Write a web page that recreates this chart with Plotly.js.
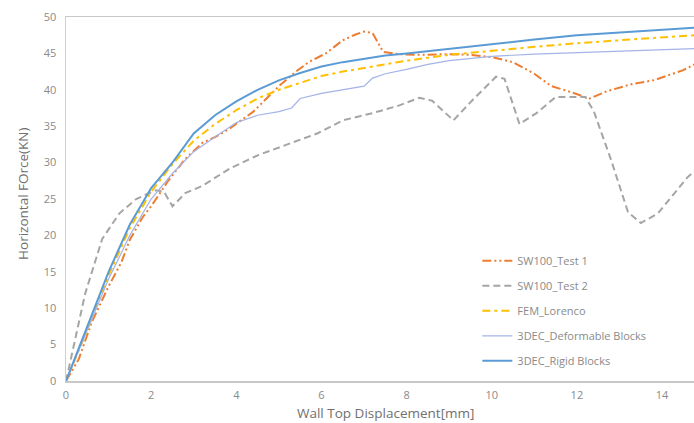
<!DOCTYPE html>
<html>
<head>
<meta charset="utf-8">
<script src="https://cdn.plot.ly/plotly-3.0.1.min.js"></script>
<style>html,body{margin:0;padding:0;background:#fff;}#chart{width:694px;height:423px;}</style>
</head>
<body>
<div id="chart"></div>
<script>
// Series names
const seriesNames = ["SW100_Test 1", "SW100_Test 2", "FEM_Lorenco", "3DEC_Deformable Blocks", "3DEC_Rigid Blocks"];

// SW100_Test 1
const test1X = [0,0.3,0.6,1,1.3,1.5,1.8,2,2.4,2.8,3.2,3.5,3.85,4.4,5,5.4,5.7,6.1,6.5,6.8,7,7.2,7.45,7.8,8.3,9,9.5,10,10.5,11,11.4,11.8,12.3,12.7,13.3,13.8,14.5,15];
const test1Y = [0,3,8,13,16.3,19.4,22.5,24,27.5,30.5,32.7,33.5,34.7,37,40.5,42.5,43.8,45,46.8,47.6,48,47.8,45.2,44.9,44.8,44.9,44.8,44.5,43.8,42.2,40.5,39.8,38.8,39.8,40.8,41.3,42.7,44.2];

// SW100_Test 2
const test2X = [0,0.15,0.45,0.85,1.25,1.65,2.1,2.3,2.5,2.8,3.2,3.85,4.5,5.2,5.9,6.5,7.2,7.8,8.3,8.6,9.1,9.55,10.1,10.3,10.65,11.05,11.5,12.2,12.4,12.8,13.2,13.5,13.9,14.6,15];
const test2Y = [0,4,12,19.5,23,25,26.2,26,24,25.8,26.8,29.2,31,32.5,34,35.8,36.8,37.8,38.9,38.5,35.8,38.6,41.8,41.5,35.3,36.8,39,39,37,30.4,23.2,21.7,23,28,30];

// FEM_Lorenco
const femX = [0,0.5,1,1.5,2,2.5,3,3.5,4,4.5,5,5.5,6,6.5,7,7.5,8,9,10,11,12,13,14,15];
const femY = [0,7,14.5,21,26,29.8,33,35.3,37.2,38.8,40,41,41.9,42.5,43,43.4,44,44.8,45.4,45.9,46.4,46.8,47.2,47.6];

// 3DEC_Deformable Blocks
const defX = [0,0.5,1,1.5,2,2.5,3,3.5,4,4.5,5,5.3,5.5,6,6.5,7,7.2,7.5,8,8.5,9,9.5,10,11,12,13,14,15];
const defY = [0,7,14,20,25,28.5,31.5,33.5,35.5,36.5,37,37.5,38.8,39.5,40,40.5,41.6,42.2,42.8,43.5,44,44.3,44.6,44.9,45.1,45.3,45.5,45.7];

// 3DEC_Rigid Blocks
const rigX = [0,0.5,1,1.5,2,2.5,3,3.5,4,4.5,5,5.5,6,6.5,7,7.5,8,8.5,9,9.5,10,11,12,13,14,15];
const rigY = [0,7.5,15,21.5,26.5,30,34,36.5,38.4,40,41.3,42.3,43.2,43.8,44.3,44.7,45,45.3,45.6,46,46.3,46.9,47.5,47.9,48.3,48.6];

// Axis ticks and titles
const xTicks = [0,2,4,6,8,10,12,14];
const yTicks = [0,5,10,15,20,25,30,35,40,45,50];
const xTitle = "Wall Top Displacement[mm]";
const yTitle = "Horizontal FOrce(KN)";

const traces = [
  {x: test1X, y: test1Y, name: seriesNames[0], legendgroup: "g1", mode: "lines",
   line: {color: "#ED7D31", width: 2, dash: "9px,3px,2px,3px,2px,3px"}},
  {x: test2X, y: test2Y, name: seriesNames[1], legendgroup: "g2", mode: "lines",
   line: {color: "#A5A5A5", width: 2, dash: "7px,4px"}},
  {x: femX, y: femY, name: seriesNames[2], legendgroup: "g3", mode: "lines",
   line: {color: "#FFC000", width: 2, dash: "8px,4px,3px,4px"}},
  {x: defX, y: defY, name: seriesNames[3], legendgroup: "g4", mode: "lines",
   line: {color: "#A4B3E8", width: 1.2}},
  {x: rigX, y: rigY, name: seriesNames[4], legendgroup: "g5", mode: "lines",
   line: {color: "#5B9BD5", width: 2}}
];

const fontFam = "Open Sans, Liberation Sans, sans-serif";
const layout = {
  width: 694, height: 423,
  margin: {l: 66, r: 0, t: 17, b: 42},
  paper_bgcolor: "#ffffff", plot_bgcolor: "#ffffff",
  font: {family: fontFam, size: 11, color: "#808080"},
  showlegend: true,
  legend: {x: 0.655, y: 0.37, xanchor: "left", yanchor: "top",
    bgcolor: "rgba(255,255,255,0.9)", font: {size: 11, color: "#8a8a8a"},
    traceorder: "grouped", tracegroupgap: 6},
  xaxis: {range: [0, 14.75], tickvals: xTicks, ticks: "", showgrid: false, zeroline: false,
    showline: true, linecolor: "#c8c8c8", linewidth: 1.5, mirror: true,
    ticklabelstandoff: 3, tickfont: {size: 11, color: "#8a8a8a"}},
  yaxis: {range: [0, 50], tickvals: yTicks, ticks: "", showgrid: false, zeroline: false,
    showline: true, linecolor: "#d0d0d0", linewidth: 1.5, ticklabelstandoff: 6,
    tickfont: {size: 11, color: "#8a8a8a"}},
  annotations: [
    {text: xTitle, xref: "paper", yref: "paper", x: 0.5, y: 0, xshift: 5, yshift: -32,
     xanchor: "center", yanchor: "middle", showarrow: false,
     font: {size: 13.5, color: "#707070", family: fontFam}},
    {text: yTitle, xref: "paper", yref: "paper", x: 0, y: 0.514, xshift: -43,
     xanchor: "center", yanchor: "middle", textangle: -90, showarrow: false,
     font: {size: 13.5, color: "#707070", family: fontFam}}
  ]
};

Plotly.newPlot("chart", traces, layout, {displayModeBar: false, staticPlot: true});
</script>
</body>
</html>
